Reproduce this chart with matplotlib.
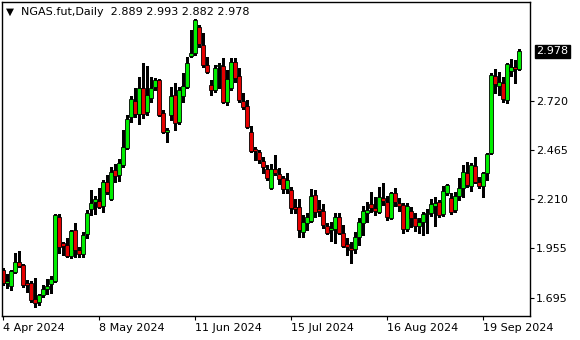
import numpy as np
import matplotlib
matplotlib.use("Agg")
import matplotlib.pyplot as plt
import matplotlib.transforms as mtransforms

# daily OHLC, NGAS.fut (4 Apr 2024 onward)
opens = [1.841, 1.773, 1.758, 1.831, 1.883, 1.867, 1.773, 1.773, 1.690, 1.675,
         1.711, 1.742, 1.768, 1.784, 2.117, 1.981, 1.971, 1.914, 2.049, 1.945,
         1.924, 2.028, 2.158, 2.195, 2.200, 2.174, 2.299, 2.210, 2.361, 2.335,
         2.387, 2.476, 2.637, 2.720, 2.652, 2.788, 2.663, 2.736, 2.793, 2.829,
         2.658, 2.559, 2.647, 2.751, 2.611, 2.746, 2.793, 2.954, 2.970, 3.105,
         3.011, 2.907, 2.803, 2.777, 2.902, 2.902, 2.715, 2.788, 2.923, 2.850,
         2.720, 2.694, 2.559, 2.470, 2.455, 2.408, 2.366, 2.267, 2.366, 2.340,
         2.319, 2.262, 2.257, 2.169, 2.169, 2.039, 2.085, 2.096, 2.231, 2.158,
         2.148, 2.070, 2.049, 2.054, 2.117, 2.033, 1.976, 1.955, 1.950, 2.013,
         2.085, 2.137, 2.184, 2.163, 2.143, 2.215, 2.195, 2.111, 2.241, 2.189,
         2.179, 2.054, 2.148, 2.111, 2.070, 2.091, 2.132, 2.137, 2.174, 2.195,
         2.132, 2.241, 2.215, 2.153, 2.226, 2.267, 2.345, 2.278, 2.382, 2.299,
         2.278, 2.345, 2.449, 2.850, 2.798, 2.814, 2.725, 2.876, 2.897, 2.889]
highs = [1.851, 1.820, 1.841, 1.929, 1.940, 1.872, 1.789, 1.784, 1.799, 1.716,
         1.763, 1.794, 1.810, 2.132, 2.132, 1.987, 2.007, 2.049, 2.085, 1.961,
         2.039, 2.153, 2.257, 2.226, 2.267, 2.309, 2.335, 2.377, 2.392, 2.418,
         2.569, 2.647, 2.746, 2.788, 2.845, 2.918, 2.902, 2.845, 2.840, 2.834,
         2.673, 2.579, 2.793, 2.814, 2.793, 2.866, 2.949, 3.089, 3.146, 3.115,
         3.074, 2.949, 2.829, 2.907, 2.918, 2.944, 2.881, 2.944, 2.944, 2.892,
         2.762, 2.725, 2.590, 2.481, 2.465, 2.429, 2.387, 2.392, 2.439, 2.371,
         2.330, 2.345, 2.273, 2.210, 2.210, 2.127, 2.137, 2.262, 2.257, 2.205,
         2.184, 2.085, 2.091, 2.137, 2.137, 2.075, 2.007, 1.987, 2.039, 2.111,
         2.174, 2.195, 2.247, 2.221, 2.273, 2.293, 2.226, 2.247, 2.267, 2.215,
         2.189, 2.189, 2.169, 2.137, 2.111, 2.143, 2.158, 2.210, 2.221, 2.205,
         2.278, 2.288, 2.241, 2.247, 2.319, 2.387, 2.403, 2.397, 2.429, 2.325,
         2.351, 2.449, 2.866, 2.886, 2.871, 2.845, 2.918, 2.938, 2.933, 2.993]
lows = [1.763, 1.747, 1.737, 1.825, 1.857, 1.753, 1.727, 1.675, 1.649, 1.659,
        1.701, 1.716, 1.721, 1.779, 1.929, 1.919, 1.909, 1.903, 1.909, 1.909,
        1.909, 2.007, 2.127, 2.132, 2.163, 2.143, 2.236, 2.205, 2.299, 2.304,
        2.377, 2.470, 2.611, 2.637, 2.600, 2.631, 2.647, 2.715, 2.777, 2.642,
        2.553, 2.507, 2.621, 2.569, 2.600, 2.715, 2.788, 2.949, 2.959, 3.001,
        2.897, 2.866, 2.751, 2.767, 2.788, 2.710, 2.699, 2.777, 2.819, 2.715,
        2.678, 2.580, 2.455, 2.413, 2.397, 2.345, 2.309, 2.262, 2.335, 2.288,
        2.241, 2.241, 2.137, 2.137, 2.013, 2.013, 2.049, 2.091, 2.117, 2.122,
        2.059, 2.028, 1.992, 1.981, 2.028, 1.961, 1.919, 1.877, 1.929, 1.971,
        2.023, 2.091, 2.143, 2.127, 2.137, 2.179, 2.101, 2.106, 2.174, 2.148,
        2.033, 2.044, 2.065, 2.044, 2.033, 2.023, 2.033, 2.122, 2.070, 2.117,
        2.122, 2.231, 2.132, 2.143, 2.205, 2.221, 2.273, 2.252, 2.293, 2.267,
        2.221, 2.309, 2.444, 2.762, 2.751, 2.715, 2.710, 2.850, 2.814, 2.882]
closes = [1.773, 1.784, 1.836, 1.883, 1.862, 1.763, 1.763, 1.685, 1.669, 1.711,
          1.742, 1.758, 1.794, 2.127, 1.961, 1.966, 1.914, 2.044, 1.945, 1.924,
          2.023, 2.137, 2.189, 2.210, 2.169, 2.299, 2.247, 2.351, 2.330, 2.397,
          2.481, 2.626, 2.730, 2.652, 2.788, 2.652, 2.751, 2.788, 2.829, 2.647,
          2.559, 2.569, 2.746, 2.605, 2.777, 2.798, 2.918, 2.970, 3.141, 3.016,
          2.907, 2.871, 2.777, 2.892, 2.907, 2.715, 2.834, 2.923, 2.840, 2.725,
          2.689, 2.585, 2.460, 2.460, 2.413, 2.377, 2.319, 2.366, 2.345, 2.314,
          2.262, 2.309, 2.163, 2.158, 2.049, 2.091, 2.117, 2.226, 2.143, 2.148,
          2.075, 2.033, 2.059, 2.117, 2.033, 1.966, 1.961, 1.945, 2.013, 2.091,
          2.148, 2.153, 2.163, 2.148, 2.221, 2.200, 2.117, 2.241, 2.195, 2.174,
          2.054, 2.174, 2.111, 2.070, 2.091, 2.132, 2.137, 2.184, 2.189, 2.127,
          2.252, 2.283, 2.143, 2.226, 2.267, 2.351, 2.283, 2.387, 2.299, 2.278,
          2.345, 2.444, 2.855, 2.808, 2.819, 2.730, 2.912, 2.897, 2.886, 2.978]

date_pos = [0, 24, 48, 72, 96, 120]
date_labels = ["4 Apr 2024", "8 May 2024", "11 Jun 2024", "15 Jul 2024",
               "16 Aug 2024", "19 Sep 2024"]
price_ticks = [1.695, 1.955, 2.210, 2.465, 2.720]

o = np.array(opens); h = np.array(highs); l = np.array(lows); c = np.array(closes)
x = np.arange(len(o))
up = c >= o

fig = plt.figure(figsize=(5.8, 3.4), dpi=100)
ax = fig.add_axes([2/580, 1-316/340, 528/580, 314/340])

ax.vlines(x, l, h, color="black", lw=1, zorder=1, antialiased=False)
bot = np.minimum(o, c)
hgt = np.maximum(np.abs(c - o), 0.003)
ax.bar(x[up], hgt[up], bottom=bot[up], width=0.78, color="#00ee00",
       edgecolor="black", lw=0.6, zorder=2)
ax.bar(x[~up], hgt[~up], bottom=bot[~up], width=0.78, color="#e60000",
       edgecolor="black", lw=0.6, zorder=2)

ax.set_xlim(-0.25, 131.75)
ax.set_ylim(1.602, 3.235)

ax.yaxis.tick_right()
ax.set_yticks(price_ticks)
ax.set_yticklabels([f"{v:.3f}" for v in price_ticks])
ax.set_xticks(date_pos)
ax.set_xticklabels(date_labels, ha="left")
ax.tick_params(axis="both", length=3, width=0.8, labelsize=8, colors="black", pad=1.5)
ax.tick_params(axis="x", pad=2)
for s in ax.spines.values():
    s.set_linewidth(1)
    s.set_color("black")

# last price marker
trans = mtransforms.blended_transform_factory(ax.transAxes, ax.transData)
ax.text(1.012, closes[-1], f"{closes[-1]:.3f}", transform=trans, fontsize=8,
        color="white", va="center", ha="left",
        bbox=dict(boxstyle="square,pad=0.15", fc="black", ec="black"))

fig.text(6/580, 1-12/340, "\u25BC", fontsize=7.5, va="center", ha="left")
fig.text(21/580, 1-12/340,
         f"NGAS.fut,Daily  {opens[-1]:.3f} {highs[-1]:.3f} {lows[-1]:.3f} {closes[-1]:.3f}",
         fontsize=8, va="center", ha="left", color="black")

fig.savefig("out.png", dpi=100)
